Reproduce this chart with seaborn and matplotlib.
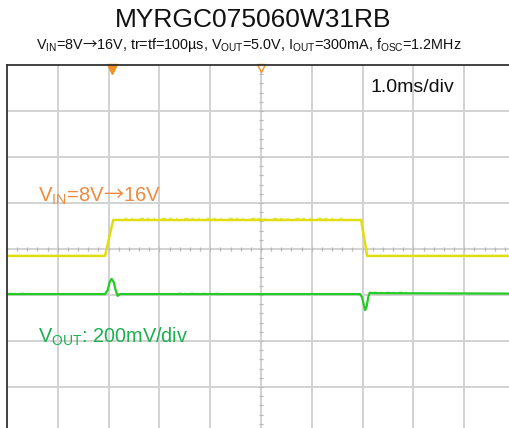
import numpy as np
import pandas as pd
import seaborn as sns
import matplotlib
matplotlib.use("Agg")
import matplotlib.pyplot as plt

# ---- data (time in ms = divisions, amplitude in divisions) ----
vin_t = [0.0, 1.93, 2.09, 6.97, 7.09, 10.0]
vin_v = [-0.15, -0.15, 0.63, 0.63, -0.15, -0.15]

vout_t = [0.0, 1.93, 1.98, 2.02, 2.06, 2.10, 2.14, 2.18, 2.22,
          6.95, 6.99, 7.02, 7.05, 7.08, 7.11, 7.14, 7.2, 10.0]
vout_v = [-0.98, -0.98, -0.9, -0.72, -0.65, -0.72, -0.9, -1.02, -0.98,
          -0.98, -1.05, -1.2, -1.33, -1.25, -1.05, -0.95, -0.96, -0.97]

# switching-noise fuzz segments (start, end) just above the traces
vout_fuzz_seg = [0, 0, 1, 1, 2, 2]
vout_fuzz_t = [0.0, 0.5, 3.35, 4.2, 7.2, 7.9]
vout_fuzz_v = [-0.95, -0.95, -0.95, -0.95, -0.94, -0.94]
vin_fuzz_t = [2.3, 6.6]
vin_fuzz_v = [0.665, 0.665]

title = "MYRGC075060W31RB"
arrow = r"$\mathsf{→}$"
subtitle = (r"V$_{\mathrm{IN}}$=8V" + arrow + r"16V, tr=tf=100µs, V$_{\mathrm{OUT}}$=5.0V, "
            r"I$_{\mathrm{OUT}}$=300mA, f$_{\mathrm{OSC}}$=1.2MHz")
timebase = "1.0ms/div"
vin_label = r"V$_{\mathrm{IN}}$=8V" + arrow + "16V"
vout_label = r"V$_{\mathrm{OUT}}$: 200mV/div"

sns.set_theme(style="white")
plt.rcParams['font.family'] = ['Liberation Sans', 'DejaVu Sans']
plt.rcParams['mathtext.fontset'] = 'custom'
plt.rcParams['mathtext.rm'] = 'Liberation Sans'
plt.rcParams['mathtext.it'] = 'Liberation Sans'
plt.rcParams['mathtext.bf'] = 'Liberation Sans'
plt.rcParams['mathtext.sf'] = 'Noto Sans CJK JP'

W, H = 509, 428
fig = plt.figure(figsize=(W / 100, H / 100), dpi=100)
# axes extends beyond the right and bottom edge of the image (scope screen cut off)
left, top, right, bottom = 7, 65, 515, 433
ax = fig.add_axes([left / W, 1 - bottom / H, (right - left) / W, (bottom - top) / H])
ax.set_xlim(0, 10)
ax.set_ylim(-4, 4)

grid_c = "#d2d2d2"
for x in range(1, 10):
    ax.axvline(x, color=grid_c, lw=1.4, zorder=1)
for y in range(-3, 4):
    ax.axhline(y, color=grid_c, lw=1.4, zorder=1)
# minor ticks along center axes
tx = np.arange(0, 10.01, 0.2)
ax.vlines(tx, -0.05, 0.05, color="#b8b8b8", lw=0.9, zorder=1)
ty = np.arange(-4, 4.01, 0.2)
ax.hlines(ty, 5 - 0.04, 5 + 0.04, color="#b8b8b8", lw=0.9, zorder=1)

df_in = pd.DataFrame({"t": vin_t, "v": vin_v})
df_out = pd.DataFrame({"t": vout_t, "v": vout_v})
df_fz = pd.DataFrame({"t": vout_fuzz_t, "v": vout_fuzz_v, "seg": vout_fuzz_seg})
df_ifz = pd.DataFrame({"t": vin_fuzz_t, "v": vin_fuzz_v})

sns.lineplot(data=df_ifz, x="t", y="v", ax=ax, color="#e4e450", lw=1.0,
             estimator=None, sort=False, zorder=2, dashes=False,
             linestyle=(0, (2, 3, 1, 5, 3, 2)))
sns.lineplot(data=df_in, x="t", y="v", ax=ax, color="#dede10", lw=1.8,
             estimator=None, sort=False, zorder=3)
sns.lineplot(data=df_fz, x="t", y="v", units="seg", ax=ax, color="#44cc44",
             lw=1.0, estimator=None, sort=False, zorder=3,
             linestyle=(0, (3, 2, 1, 3)))
sns.lineplot(data=df_out, x="t", y="v", ax=ax, color="#22cc22", lw=1.6,
             estimator=None, sort=False, zorder=4)

# trigger markers
ax.plot([2.07], [3.92], marker="v", ms=6.5, color="#f39020", mec="#f39020",
        clip_on=False, zorder=6)
ax.plot([5.0], [3.93], marker="v", ms=6, mfc="white", mec="#f39020", mew=1.0,
        clip_on=False, zorder=6)

for s in ["left", "top"]:
    ax.spines[s].set_color("#333333")
    ax.spines[s].set_linewidth(1.3)
    ax.spines[s].set_zorder(7)
for s in ["right", "bottom"]:
    ax.spines[s].set_visible(False)
ax.set_xticks([])
ax.set_yticks([])
ax.set_xlabel("")
ax.set_ylabel("")

fig.text(253 / W, 1 - 20 / H, title, ha="center", va="center", fontsize=19,
         color="#111111")
fig.text(249 / W, 1 - 45 / H, subtitle, ha="center", va="center", fontsize=10.4,
         color="#111111")
fig.text(370 / W, 1 - 92 / H, timebase, ha="left", va="baseline", fontsize=14,
         color="#111111")
fig.text(38 / W, 1 - 202 / H, vin_label, ha="left", va="baseline", fontsize=14.6,
         color="#f08a40")
fig.text(38 / W, 1 - 343 / H, vout_label, ha="left", va="baseline", fontsize=14.3,
         color="#1cb050")

fig.savefig("out.png", dpi=100, facecolor="white")
